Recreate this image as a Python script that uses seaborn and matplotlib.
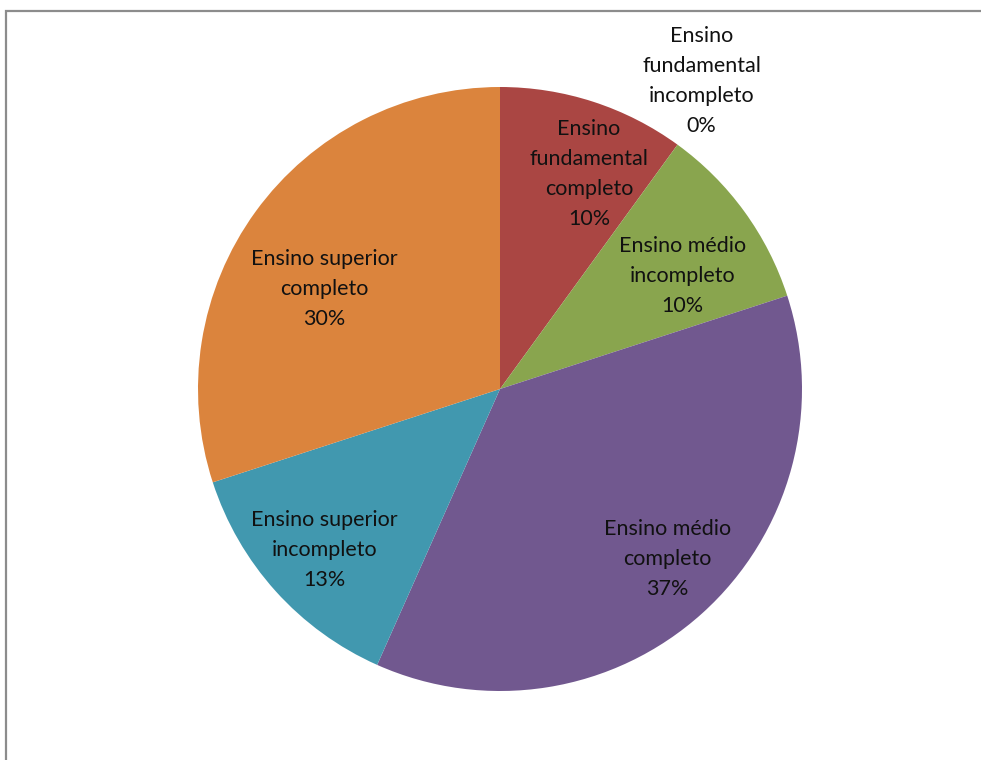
import numpy as np
import matplotlib
matplotlib.use('Agg')
import matplotlib.pyplot as plt
import seaborn as sns
from matplotlib.patches import Rectangle

# respondents per education level (shares: 0, 10, 10, 37, 13, 30 %)
categorias = ['Ensino\nfundamental\nincompleto',
              'Ensino\nfundamental\ncompleto',
              'Ensino médio\nincompleto',
              'Ensino médio\ncompleto',
              'Ensino superior\nincompleto',
              'Ensino superior\ncompleto']
contagens = [0, 3, 3, 11, 4, 9]
cores = ['#4572A7', '#AA4643', '#89A54E', '#71588F', '#4198AF', '#DB843D']

# label placement: distance from centre (fraction of radius) and angle nudge (deg)
label_dist = [1.22, 0.77, 0.71, 0.79, 0.79, 0.67]
label_nudge = [-33.2, -4.5, -4.2, 2.5, 0.5, 6.5]

sns.set_theme(style='white')
plt.rcParams['font.family'] = ['Lato', 'DejaVu Sans']

fig = plt.figure(figsize=(9.81, 7.60), dpi=100)
W, H = 981, 760
cx, cy, r = 500, 389, 302
ax = fig.add_axes([(cx - r) / W, (H - cy - r) / H, 2 * r / W, 2 * r / H])

total = sum(contagens)
wedges, _ = ax.pie(contagens, colors=cores, startangle=90, counterclock=False,
                   radius=1, wedgeprops=dict(linewidth=0))
ax.set_xlim(-1, 1)
ax.set_ylim(-1, 1)
ax.set_aspect('equal')
ax.axis('off')

for w, cat, n, d, nudge in zip(wedges, categorias, contagens, label_dist, label_nudge):
    mid = np.deg2rad((w.theta1 + w.theta2) / 2 + nudge)
    pct = round(100 * n / total)
    ax.text(d * np.cos(mid), d * np.sin(mid), f'{cat}\n{pct}%',
            ha='center', va='center', fontsize=15.5, color='#111111',
            linespacing=1.62, clip_on=False)

# chart-area frame (cut off at right and bottom like the screenshot)
fig.patches.append(Rectangle((6 / W, -0.1), 1.2, 1 - 10.5 / H + 0.1,
                             transform=fig.transFigure, fill=False,
                             edgecolor='#8c8c8c', linewidth=1.6))

fig.savefig('out.png', dpi=100, facecolor='white')
